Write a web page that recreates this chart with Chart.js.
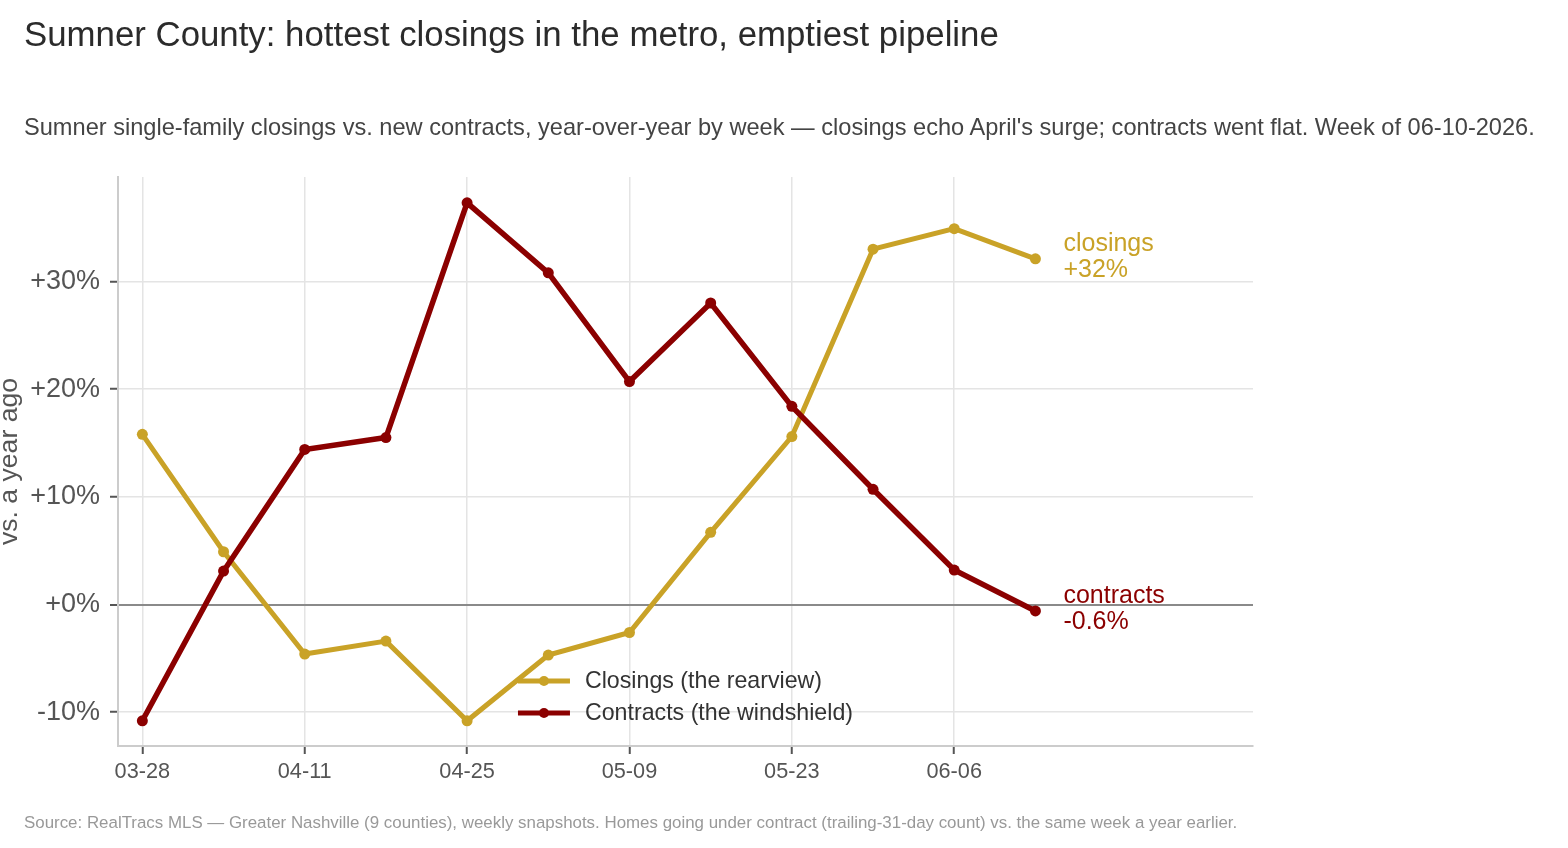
<!DOCTYPE html>
<html>
<head>
<meta charset="utf-8">
<script src="https://cdn.jsdelivr.net/npm/chart.js@4/dist/chart.umd.min.js"></script>
<style>
  html, body { margin: 0; padding: 0; background: #fff; }
  body { width: 1568px; height: 848px; position: relative; overflow: hidden; font-family: "Liberation Sans", Arial, sans-serif; }
  #title { position: absolute; left: 24px; top: 15px; font-size: 34.8px; line-height: 38px; color: #2b2b2b; white-space: nowrap; }
  #subtitle { position: absolute; left: 24px; top: 113px; font-size: 23.6px; line-height: 28px; color: #444; white-space: nowrap; }
  #footer { position: absolute; left: 24px; top: 813px; font-size: 16.9px; line-height: 20px; color: #999; white-space: nowrap; }
  #wrap { position: absolute; left: 0; top: 0; width: 1568px; height: 848px; }
</style>
</head>
<body>
<div id="wrap"><canvas id="c" width="1568" height="848"></canvas></div>
<div id="title">Sumner County: hottest closings in the metro, emptiest pipeline</div>
<div id="subtitle">Sumner single-family closings vs. new contracts, year-over-year by week — closings echo April's surge; contracts went flat. Week of 06-10-2026.</div>
<div id="footer">Source: RealTracs MLS — Greater Nashville (9 counties), weekly snapshots. Homes going under contract (trailing-31-day count) vs. the same week a year earlier.</div>
<script>
// ---- data ----
const weeks = ['03-28','04-04','04-11','04-18','04-25','05-02','05-09','05-16','05-23','05-30','06-06','06-13'];
const closings = [15.8, 4.9, -4.6, -3.4, -10.8, -4.7, -2.6, 6.7, 15.6, 33.0, 34.9, 32.1];
const contracts = [-10.8, 3.1, 14.4, 15.5, 37.3, 30.8, 20.7, 28.0, 18.4, 10.7, 3.2, -0.6];
const seriesNames = ['Closings (the rearview)', 'Contracts (the windshield)'];
const endNames = ['closings', 'contracts'];
const xTickIdx = [0, 2, 4, 6, 8, 10];
const yTickVals = [-10, 0, 10, 20, 30];

const GOLD = '#C9A227';
const RED = '#8B0000';
const FONT = '"Liberation Sans", Arial, sans-serif';

function fmtPct(v) {
  const s = Math.abs(v) >= 10 ? Math.round(v).toString() : v.toFixed(1);
  return (v >= 0 ? '+' : '') + s + '%';
}

const toXY = arr => arr.map((v, i) => ({ x: i, y: v }));

const endLabelPlugin = {
  id: 'endLabels',
  afterDatasetsDraw(chart) {
    const ctx = chart.ctx;
    chart.data.datasets.forEach((ds, di) => {
      const meta = chart.getDatasetMeta(di);
      const pt = meta.data[meta.data.length - 1];
      const v = ds.data[ds.data.length - 1].y;
      ctx.save();
      ctx.fillStyle = ds.borderColor;
      ctx.font = '25px ' + FONT;
      ctx.textAlign = 'left';
      ctx.textBaseline = 'middle';
      ctx.fillText(ds.endName, pt.x + 28, pt.y - 15);
      ctx.fillText(fmtPct(v), pt.x + 28, pt.y + 11);
      ctx.restore();
    });
  }
};

const legendPlugin = {
  id: 'inLegend',
  afterDatasetsDraw(chart) {
    const ctx = chart.ctx;
    const ca = chart.chartArea;
    ctx.save();
    ctx.font = '23.2px ' + FONT;
    const items = chart.data.datasets.slice().sort((a, b) => a.legendIndex - b.legendIndex);
    const maxW = Math.max(...items.map(d => ctx.measureText(d.label).width));
    const lineLen = 52, gap = 15;
    const blockW = lineLen + gap + maxW;
    const left = (ca.left + ca.right) / 2 - blockW / 2;
    const rowH = 32;
    const top = ca.bottom - 65;
    items.forEach((ds, i) => {
      const y = top + i * rowH;
      ctx.strokeStyle = ds.borderColor;
      ctx.lineWidth = 5;
      ctx.beginPath();
      ctx.moveTo(left, y);
      ctx.lineTo(left + lineLen, y);
      ctx.stroke();
      ctx.fillStyle = ds.borderColor;
      ctx.beginPath();
      ctx.arc(left + lineLen / 2, y, 5, 0, Math.PI * 2);
      ctx.fill();
      ctx.fillStyle = '#333';
      ctx.textAlign = 'left';
      ctx.textBaseline = 'middle';
      ctx.fillText(ds.label, left + lineLen + gap, y + 1);
    });
    ctx.restore();
  }
};

new Chart(document.getElementById('c'), {
  type: 'line',
  data: {
    datasets: [
      { label: seriesNames[0], endName: endNames[0], legendIndex: 0, data: toXY(closings), borderColor: GOLD, backgroundColor: GOLD,
        pointBackgroundColor: GOLD, borderWidth: 5, pointRadius: 5.5, pointBorderWidth: 0, tension: 0, order: 2 },
      { label: seriesNames[1], endName: endNames[1], legendIndex: 1, data: toXY(contracts), borderColor: RED, backgroundColor: RED,
        pointBackgroundColor: RED, borderWidth: 5.5, pointRadius: 5.5, pointBorderWidth: 0, tension: 0, order: 1 }
    ]
  },
  options: {
    responsive: false,
    animation: false,
    devicePixelRatio: 1,
    layout: { padding: { top: 177, right: 315, bottom: 0, left: 0 } },
    plugins: { legend: { display: false }, tooltip: { enabled: false }, title: { display: false } },
    scales: {
      x: {
        type: 'linear', min: -0.3, max: 13.68,
        afterBuildTicks: s => { s.ticks = xTickIdx.map(v => ({ value: v })); },
        afterFit: s => { s.height = 102; },
        border: { display: true, color: '#cccccc', width: 2 },
        grid: { color: '#e4e4e4', lineWidth: 1.5, tickColor: '#555', tickLength: 8, tickWidth: 2 },
        ticks: { color: '#555', font: { family: FONT, size: 21.7 }, padding: 5, maxRotation: 0, autoSkip: false,
          callback: v => weeks[v] }
      },
      y: {
        type: 'linear', min: -13.14, max: 39.7,
        afterBuildTicks: s => { s.ticks = yTickVals.map(v => ({ value: v })); },
        afterFit: s => { s.width = 118; },
        border: { display: true, color: '#cccccc', width: 2 },
        grid: {
          color: c => (c.tick && c.tick.value === 0) ? '#8a8a8a' : '#e4e4e4',
          lineWidth: c => (c.tick && c.tick.value === 0) ? 2 : 1.5,
          tickColor: '#555', tickLength: 8, tickWidth: 2
        },
        title: { display: true, text: 'vs. a year ago', color: '#555', font: { family: FONT, size: 26.6, lineHeight: 0.7 }, padding: { top: 0, bottom: 0 } },
        ticks: { color: '#555', font: { family: FONT, size: 27 }, padding: 10,
          callback: v => (v >= 0 ? '+' : '') + v + '%' }
      }
    }
  },
  plugins: [endLabelPlugin, legendPlugin]
});
</script>
</body>
</html>
